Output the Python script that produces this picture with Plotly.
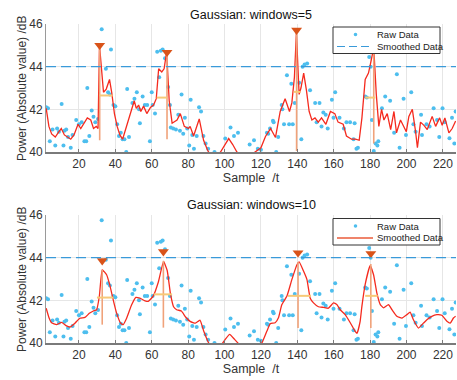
import plotly.graph_objects as go

# ---------------- data ----------------
raw_t = [2, 3, 4, 5.5, 7, 8, 9, 10.5, 11.5, 12, 13, 14, 15.5, 16.5, 18.5, 20, 21.5, 23, 24, 24.6,
         25.7, 27, 28, 29, 30.5, 32.5, 34.8, 36, 37, 37.6, 39, 40, 41, 42, 43, 44, 45, 46, 46.5, 47.5,
         49.4, 50.5, 51.8, 53, 53.5, 55, 56.2, 57.5, 59, 60, 60.5, 61.8, 63, 64.1, 65, 66, 67.3, 69, 70, 70.5,
         71.8, 73.3, 74.6, 75.5, 76.4, 77.3, 78.2, 79.5, 80.6, 81.4, 82.3, 83.2, 84.7, 86, 87.1, 88.4, 89.6, 91, 94.5, 100.4,
         103.3, 105.2, 107.4, 113.8, 116.2, 118.3, 120, 123.3, 124, 125, 126.6, 127, 128.4, 129.5, 131.4, 131.8, 132.7, 134.3, 135.5, 136.7,
         137.5, 138.6, 141, 142.2, 142.9, 144, 145.4, 147, 149.8, 150.6, 152.2, 153.3, 154.3, 155.6, 156.7, 159, 159.9, 160.8, 163.2, 165.6,
         167, 169, 170.9, 171.5, 172.5, 173.3, 177.3, 178.2, 179.5, 180.3, 181, 182, 183, 184, 184.5, 186.5, 188.3, 191, 193.2, 194.7,
         196.2, 198.4, 199.7, 202.6, 203.8, 205, 208, 208.5, 211, 212.7, 214.9, 216.8, 218, 219.8, 221, 223.6, 225, 226.3, 227]
raw_v = [42.1, 42.05, 40.5, 41.05, 40.3, 41.1, 40.95, 42.25, 40.3, 41.0, 41.05, 40.7, 40.2, 40.8, 41.5, 41.3, 41.4, 40.5, 40.5, 43.0,
         40.75, 41.95, 41.65, 41.4, 41.55, 45.75, 43.9, 42.8, 42.7, 44.8, 42.2, 42.15, 41.3, 40.75, 40.9, 40.6, 40.6, 40.0, 42.95, 40.7,
         42.3, 42.5, 42.8, 42.0, 41.35, 42.6, 42.2, 42.2, 40.5, 42.8, 42.2, 41.8, 44.7, 43.5, 44.75, 44.8, 44.4, 43.05, 42.2, 41.15,
         41.1, 41.05, 41.75, 41.0, 42.7, 40.85, 41.6, 41.1, 40.3, 42.45, 40.8, 40.15, 40.75, 42.1, 41.9, 40.75, 40.4, 40.15, 40.0, 40.63,
         41.15, 40.75, 40.9, 40.35, 40.55, 40.15, 40.1, 40.9, 40.85, 41.1, 41.47, 41.4, 40.0, 40.7, 42.2, 42.0, 41.3, 43.6, 41.3, 43.2,
         41.3, 42.3, 43.25, 40.6, 44.0, 44.1, 44.15, 42.9, 42.3, 41.4, 42.3, 41.2, 41.85, 41.75, 41.1, 42.45, 41.6, 42.8, 41.6, 41.1,
         41.4, 41.4, 40.6, 41.35, 40.15, 40.2, 42.6, 42.55, 44.45, 44.0, 41.5, 40.05, 40.4, 40.3, 40.5, 42.05, 42.6, 42.4, 40.9, 43.65,
         40.2, 42.5, 40.8, 42.8, 41.3, 40.95, 41.75, 40.8, 41.3, 41.2, 42.05, 41.5, 40.7, 42.05, 41.4, 40.65, 41.6, 40.4, 41.9]

# Gaussian smoothing, window = 5
s5_t = [2, 3.5, 5, 7, 9, 10.3, 12, 13.6, 15.5, 17.3, 19.5, 21, 22.8, 24.6, 26.5, 28, 29.5, 30.5, 31.3, 33.5,
        35, 36.8, 38, 39.5, 41, 42.5, 44, 46, 47.8, 49, 50.4, 51.5, 52.8, 54, 55.5, 57.3, 59.4, 61, 62.5, 63.8,
        65.5, 66.8, 68.2, 69.6, 71.2, 73.9, 75.7, 77.9, 80.2, 81.1, 83, 86.1, 88.5, 90.7, 94, 97.8, 100, 102.3, 104.5, 106.8,
        112, 117, 120, 122.5, 125.3, 128, 130.6, 133.3, 135.7, 137, 138.4, 139.5, 141, 142, 143.5, 145, 146.5, 148, 149.7, 151.5,
        153.3, 155.7, 158.2, 160.6, 162.4, 165.2, 167, 169.8, 172, 174, 175.5, 177.3, 179.1, 180.6, 182, 183.4, 184.8, 186.3,
        187.6, 189.4, 191.3, 193.1, 194.5, 196.7, 198.6, 199.9, 201.3, 203.2, 205, 206, 207.7, 209.6, 211.4, 214.1, 216, 218.2,
        219.6, 221.1, 223.3, 225.1, 227]
s5_v = [42.05, 41.2, 40.85, 40.7, 40.95, 41.1, 40.8, 40.7, 40.6, 40.8, 41.3, 41.1, 41.35, 41.6, 41.5, 41.1, 41.2, 41.1, 45.0, 42.8,
        42.95, 43.4, 42.8, 41.8, 41.2, 40.8, 40.6, 41.2, 41.7, 42.1, 42.4, 42.05, 42.2, 41.9, 42.15, 41.8, 42.1, 42.2, 42.5, 43.9,
        43.75, 43.9, 44.7, 42.4, 41.35, 41.5, 41.8, 41.2, 41.1, 41.2, 40.75, 41.55, 40.55, 40.08, 39.6, 40.0, 40.3, 40.63, 40.35, 40.0,
        39.7, 40.0, 40.2, 40.73, 41.1, 40.68, 41.9, 42.5, 41.9, 42.3, 43.5, 45.6, 42.7, 43.0, 43.7, 42.9, 41.9, 41.5, 41.6, 41.4,
        41.6, 41.3, 41.9, 41.8, 41.4, 41.3, 40.75, 40.6, 40.6, 40.55, 41.6, 43.4, 43.7, 44.3, 44.9, 42.7, 41.2, 42.0,
        41.5, 41.8, 41.05, 41.9, 40.9, 41.5, 41.2, 40.95, 41.67, 42.0, 40.95, 40.2, 41.4, 41.25, 41.05, 41.67, 41.2, 41.6,
        41.25, 41.6, 40.9, 41.1, 41.45]

# Gaussian smoothing, window = 10
s10_t = [2, 3.5, 5, 7.7, 10.5, 13.2, 15, 17.8, 20.5, 23.3, 25.7, 27.9, 29.7, 31.2, 32.8, 35.2, 37, 38.9, 40.7, 42.9,
         44.3, 46.2, 48.9, 51.3, 53.5, 56.3, 58.1, 60.8, 63.6, 66.5, 68.5, 70.3, 72, 73.7, 76.3, 78.6, 81.3, 84, 86.5, 88.6,
         91, 92.5, 96, 99, 102.8, 105.5, 107.7, 110, 115, 118.5, 120.5, 123.3, 125.1, 127.8, 129.7, 131.5, 134.3, 137, 139.8, 141,
         143.4, 145.3, 147.1, 148.9, 151.6, 154.4, 157.1, 159.9, 161.7, 163.6, 166.3, 169.1, 171.8, 172.8, 174.5, 175.5, 177.3, 180, 181.9, 183.7,
         185.6, 187.4, 190.1, 192, 194.7, 197.5, 200.2, 202, 203.8, 206.6, 209.3, 211.2, 213.9, 216.7, 219.4, 222.2, 224, 225.8, 227]
s10_v = [41.63, 41.2, 40.95, 40.86, 40.97, 40.8, 40.75, 40.93, 41.16, 41.2, 41.39, 41.5, 41.56, 42.18, 43.43, 43.2, 42.7, 42.0, 41.4, 40.93,
         40.86, 41.16, 41.78, 42.14, 42.1, 41.98, 41.95, 42.2, 42.85, 43.82, 43.4, 42.3, 41.7, 41.56, 41.5, 41.22, 41.0, 40.93, 41.07, 40.55,
         40.05, 39.8, 39.6, 40.0, 40.4, 40.17, 39.97, 39.8, 39.7, 39.9, 40.0, 40.56, 40.9, 40.95, 41.2, 41.8, 42.2, 42.97, 43.67, 43.8,
         43.37, 42.97, 42.1, 41.88, 41.7, 41.67, 41.63, 41.88, 41.8, 41.56, 41.33, 40.95, 40.55, 40.45, 41.0, 41.73, 42.75, 43.62, 43.2, 42.35,
         41.8, 41.65, 41.8, 41.56, 41.25, 41.17, 41.33, 41.45, 41.09, 40.7, 40.93, 41.09, 41.25, 41.33, 41.3, 41.02, 40.93, 41.17, 41.25]

threshold = 44

# peaks (window 5)
pk5_t = [31.4, 68.4, 139.6, 182]
pk5_v = [45.0, 44.67, 45.71, 44.9]
pk5_base = [40.55, 40.6, 40.05, 40.4]
w5_left = [31.4, 62.7, 138.0, 177.3]
w5_right = [38.5, 68.4, 141.8, 182.9]
w5_level = [42.65, 42.55, 42.82, 42.55]

# peaks (window 10)
pk10_t = [32.8, 66.4, 140.4, 180.4]
pk10_top = [43.43, 43.85, 43.8, 43.7]
pk10_v = [43.86, 44.28, 44.23, 44.19]
pk10_base = [40.86, 40.72, 40.7, 40.7]
w10_left = [29.9, 61.2, 134.8, 177.3]
w10_right = [39.0, 71.2, 147.5, 184.2]
w10_level = [42.13, 42.28, 42.21, 42.21]

x_ticks = [20, 40, 60, 80, 100, 120, 140, 160, 180, 200, 220]
y_ticks = [40, 42, 44, 46]
x_range = [1.9, 227.2]
y_range = [40, 46]
legend_labels = ["Raw Data", "Smoothed Data"]
titles = ["Gaussian: windows=5", "Gaussian: windows=10"]
x_title = "Sample  /t"
y_title = "Power (Absolute value) /dB"

# ---------------- style ----------------
FONT = "Liberation Sans, Arial, sans-serif"
C_RAW = "#4DBEEE"
C_SMOOTH = "#F52A1E"
C_THR = "#3A9AD9"
C_PEAK = "#D95319"
C_PROM = "#F0A27A"
C_WID = "#F7C977"
C_LEG_LINE = "#EA5B3A"

W, H = 457, 380
ML, MR, MT, MB = 46, 1, 24, 37
PW, PH = W - ML - MR, H - MT - MB


def px2paper(px, py):
    return (px - ML) / PW, (H - MB - py) / PH


def segs(xa, xb, ya, yb):
    xs, ys = [], []
    for a, b, c, d in zip(xa, xb, ya, yb):
        xs += [a, b, None]
        ys += [c, d, None]
    return xs, ys


fig = go.Figure()
shapes = []
annotations = []


def add_panel(xa, ya, s_t, s_v, pk_t, pk_top, pk_v, base, wl, wr, wlev, smooth_shape):
    fig.add_trace(go.Scatter(x=raw_t, y=raw_v, mode="markers", name=legend_labels[0],
                             marker=dict(color=C_RAW, size=4, line=dict(width=0)),
                             xaxis=xa, yaxis=ya, showlegend=False))
    shapes.append(dict(type="line", xref=f"{xa} domain", yref=ya, x0=0, x1=1, y0=threshold, y1=threshold,
                       line=dict(color=C_THR, width=1.3, dash="10px,5px"), layer="above"))
    fig.add_trace(go.Scatter(x=s_t, y=s_v, mode="lines", name=legend_labels[1],
                             line=dict(color=C_SMOOTH, width=1.3, shape=smooth_shape, smoothing=0.4),
                             xaxis=xa, yaxis=ya, showlegend=False))
    px, py = segs(pk_t, pk_t, pk_top, base)
    fig.add_trace(go.Scatter(x=px, y=py, mode="lines", line=dict(color=C_PROM, width=1.6),
                             xaxis=xa, yaxis=ya, showlegend=False, hoverinfo="skip"))
    wx, wy = segs(wl, wr, wlev, wlev)
    fig.add_trace(go.Scatter(x=wx, y=wy, mode="lines", line=dict(color=C_WID, width=2),
                             xaxis=xa, yaxis=ya, showlegend=False, hoverinfo="skip"))
    fig.add_trace(go.Scatter(x=pk_t, y=pk_v, mode="markers",
                             marker=dict(symbol="triangle-down", size=9.5, color=C_PEAK, line=dict(width=0)),
                             xaxis=xa, yaxis=ya, showlegend=False, cliponaxis=False))


def add_legend(box_top, line_style):
    x0, y0 = px2paper(333, box_top)
    x1, y1 = px2paper(440, box_top + 26.5)
    shapes.append(dict(type="rect", xref="paper", yref="paper", x0=x0, x1=x1, y0=y1, y1=y0,
                       fillcolor="white", line=dict(color="#333333", width=1), layer="above"))
    cx, cy = px2paper(355.5, box_top + 7.5)
    rx, ry = 1.8 / PW, 1.8 / PH
    shapes.append(dict(type="circle", xref="paper", yref="paper", x0=cx - rx, x1=cx + rx, y0=cy - ry, y1=cy + ry,
                       fillcolor=C_RAW, line=dict(width=0), layer="above"))
    lx0, ly = px2paper(337, box_top + 19.5)
    lx1, _ = px2paper(373, box_top + 19.5)
    shapes.append(dict(type="line", xref="paper", yref="paper", x0=lx0, x1=lx1, y0=ly, y1=ly,
                       line=line_style, layer="above"))
    tx, _ = px2paper(375, 0)
    for lab, dy in zip(legend_labels, [7.5, 19.5]):
        _, ty = px2paper(0, box_top + dy)
        annotations.append(dict(text=lab, xref="paper", yref="paper", x=tx, y=ty, xanchor="left", yanchor="middle",
                                showarrow=False, font=dict(family=FONT, size=9.5, color="#222222")))


add_panel("x", "y", s5_t, s5_v, pk5_t, pk5_v, pk5_v, pk5_base, w5_left, w5_right, w5_level, "linear")
add_panel("x2", "y2", s10_t, s10_v, pk10_t, pk10_top, pk10_v, pk10_base, w10_left, w10_right, w10_level, "spline")
add_legend(27, dict(color=C_THR, width=1.2, dash="8px,4px"))
add_legend(218.5, dict(color=C_LEG_LINE, width=1.3))

for txt, py in zip(titles, [15, 205]):
    _, ty = px2paper(0, py)
    annotations.append(dict(text=txt, xref="paper", yref="paper", x=0.5, y=ty, xanchor="center", yanchor="middle",
                            showarrow=False, font=dict(family=FONT, size=12.5, color="#111111")))

# y-axis titles (rotated), centred on each panel
for py in [89, 280]:
    tx, ty = px2paper(22, py)
    annotations.append(dict(text=y_title, xref="paper", yref="paper", x=tx, y=ty, xanchor="center",
                            yanchor="middle", textangle=-90, showarrow=False,
                            font=dict(family=FONT, size=12, color="#333333")))

axis_common = dict(range=x_range, tickvals=x_ticks, showgrid=True, gridcolor="#E6E6E6", gridwidth=1,
                   showline=True, linecolor="#7A7A7A", linewidth=1.5, ticks="inside", ticklen=3,
                   tickcolor="#7A7A7A", zeroline=False,
                   tickfont=dict(family=FONT, size=12, color="#333333"),
                   title=dict(text=x_title, font=dict(family=FONT, size=12.5, color="#333333"), standoff=3))
yaxis_common = dict(range=y_range, tickvals=y_ticks, showgrid=True, gridcolor="#E6E6E6", gridwidth=1,
                    showline=True, linecolor="#9A9A9A", linewidth=1, ticks="", zeroline=False,
                    tickfont=dict(family=FONT, size=12, color="#333333"))

_, top_lo = px2paper(0, 152)
_, bot_hi = px2paper(0, 215)

fig.update_layout(
    width=W, height=H,
    margin=dict(l=ML, r=MR, t=MT, b=MB),
    plot_bgcolor="white", paper_bgcolor="white",
    font=dict(family=FONT),
    showlegend=False,
    xaxis=dict(domain=[0, 1], anchor="y", **axis_common),
    yaxis=dict(domain=[top_lo, 1], anchor="x", **yaxis_common),
    xaxis2=dict(domain=[0, 1], anchor="y2", **axis_common),
    yaxis2=dict(domain=[0, bot_hi], anchor="x2", **yaxis_common),
    shapes=shapes,
    annotations=annotations,
)

fig.write_html("out.html")
